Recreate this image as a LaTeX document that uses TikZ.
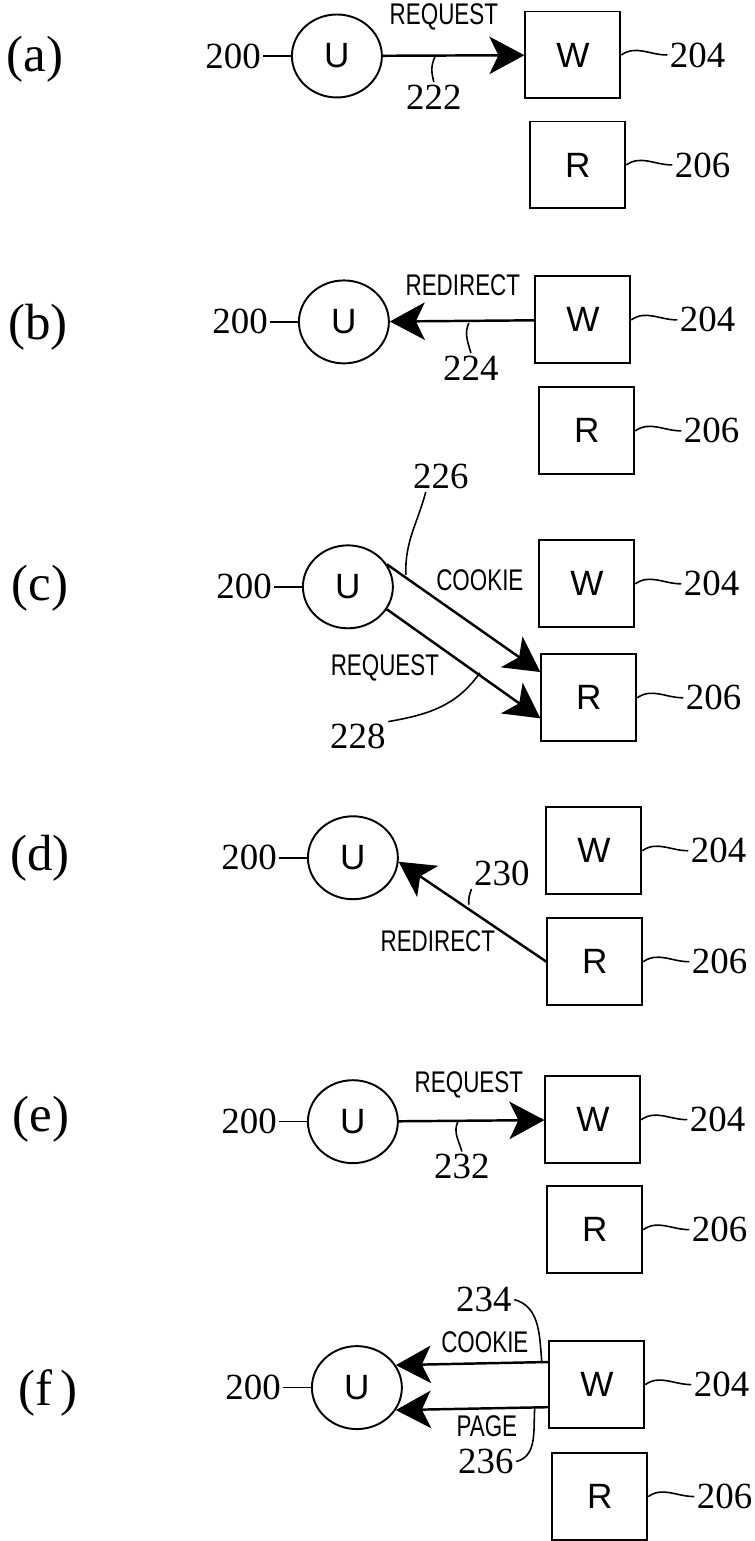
\documentclass[tikz,border=0pt]{standalone}
\usepackage{fontspec}
\setmainfont{Liberation Serif}
\newfontfamily\boxfont{Liberation Sans}
\newfontfamily\narrowfont[FakeStretch=0.75]{Liberation Sans}
\usetikzlibrary{positioning,shapes.geometric,arrows.meta}

\begin{document}
\begin{tikzpicture}
  [x=0.02cm,y=0.02cm,line width=1.1pt,
   user/.style={ellipse,draw,minimum width=1.8cm,minimum height=1.66cm,inner sep=0pt,
     font=\boxfont\fontsize{20}{20}\selectfont},
   server/.style={rectangle,draw,minimum width=1.9cm,minimum height=1.74cm,inner sep=0pt,
     font=\boxfont\fontsize{20}{20}\selectfont},
   num/.style={inner sep=1pt,font=\fontsize{21}{21}\selectfont},
   tag/.style={inner sep=0pt,font=\narrowfont\fontsize{17}{17}\selectfont},
   panel/.style={inner sep=0pt,font=\fontsize{29}{29}\selectfont},
   msg/.style={line width=1.4pt,-{Stealth[length=0.7cm,width=0.75cm,inset=0.18cm]}},
   lead/.style={line width=0.9pt}]

  \path[fill=white] (0,0) rectangle (746,-1541);

  % U, W and R in every step
  \foreach \p/\t/\lx/\ly/\ux/\uy/\wx/\wy/\rx/\ry in
    {a/{(a)}/35/59/337/56/573/55/578/165,
     b/{(b)}/38/327/344/322/583/320/587/431,
     c/{(c)}/40/588/348/587/587/584/589/698,
     d/{(d)}/40/858/353/858/594/851/595/962,
     e/{(e)}/41/1120/353/1122/593/1120/595/1230,
     f/{(f\,)}/48/1393/357/1388/597/1385/600/1497}
  {
    \node[panel] (lab\p) at (\lx,-\ly) {\t};
    \node[user] (u\p) at (\ux,-\uy) {U};
    \node[server] (w\p) at (\wx,-\wy) {W};
    \node[server] (r\p) at (\rx,-\ry) {R};
    \node[num,left=0.55cm of u\p] (n200\p) {200};
    \node[num,right=0.92cm of w\p] (n204\p) {204};
    \node[num,right=0.92cm of r\p] (n206\p) {206};
    \draw[lead] (n200\p) -- (u\p);
    \draw[lead] (w\p.east) to[out=35,in=180] (n204\p.west);
    \draw[lead] (r\p.east) to[out=35,in=180] (n206\p.west);
  }

  % (a)
  \draw[msg] (ua) -- (wa);
  \node[tag] (reqa) at (444,-17) {REQUEST};
  \node[num] (n222) at (434,-97) {222};
  \coordinate (k222) at (435,-57);
  \draw[lead] (k222) to[out=-115,in=105] (n222.north);

  % (b)
  \draw[msg] (wb) -- (ub);
  \node[tag] (redb) at (463,-285) {REDIRECT};
  \node[num] (n224) at (471,-368) {224};
  \coordinate (k224) at (469,-323);
  \draw[lead] (k224) to[out=-115,in=105] (n224.north);

  % (c)
  \draw[msg] (uc.30) -- (rc.152);
  \draw[msg] (uc.-30) -- (rc.203);
  \node[tag] (cookc) at (480,-580) {COOKIE};
  \node[tag] (reqc) at (385,-668) {REQUEST};
  \node[num] (n226) at (441,-477) {226};
  \node[num] (n228) at (358,-737) {228};
  \coordinate (k226) at (406,-575);
  \coordinate (k228) at (480,-673);
  \draw[lead] (n226.225) to[out=-105,in=92] (k226);
  \draw[lead] (n228.north east) to[out=10,in=-125] (k228);

  % (d)
  \draw[msg] (rd.west) -- (ud.-5);
  \node[tag] (redd) at (438,-941) {REDIRECT};
  \node[num] (n230) at (502,-874) {230};
  \coordinate (k230) at (469,-905);
  \draw[lead] (n230.south west) to[out=-110,in=95] (k230);

  % (e)
  \draw[msg] (ue) -- (we);
  \node[tag] (reqe) at (469,-1085) {REQUEST};
  \node[num] (n232) at (462,-1167) {232};
  \coordinate (k232) at (458,-1122);
  \draw[lead] (k232) to[out=-115,in=105] (n232.north);

  % (f)
  \draw[msg] (wf.155) -- (uf.30);
  \draw[msg] (wf.205) -- (uf.-30);
  \node[tag] (cookf) at (485,-1343) {COOKIE};
  \node[tag] (pagef) at (487,-1427) {PAGE};
  \node[num] (n234) at (484,-1300) {234};
  \node[num] (n236) at (486,-1462) {236};
  \coordinate (k234) at (542,-1363);
  \coordinate (k236) at (535,-1407);
  \draw[lead] (n234.east) to[out=-15,in=95] (k234);
  \draw[lead] (n236.east) to[out=15,in=-95] (k236);

\end{tikzpicture}
\end{document}
